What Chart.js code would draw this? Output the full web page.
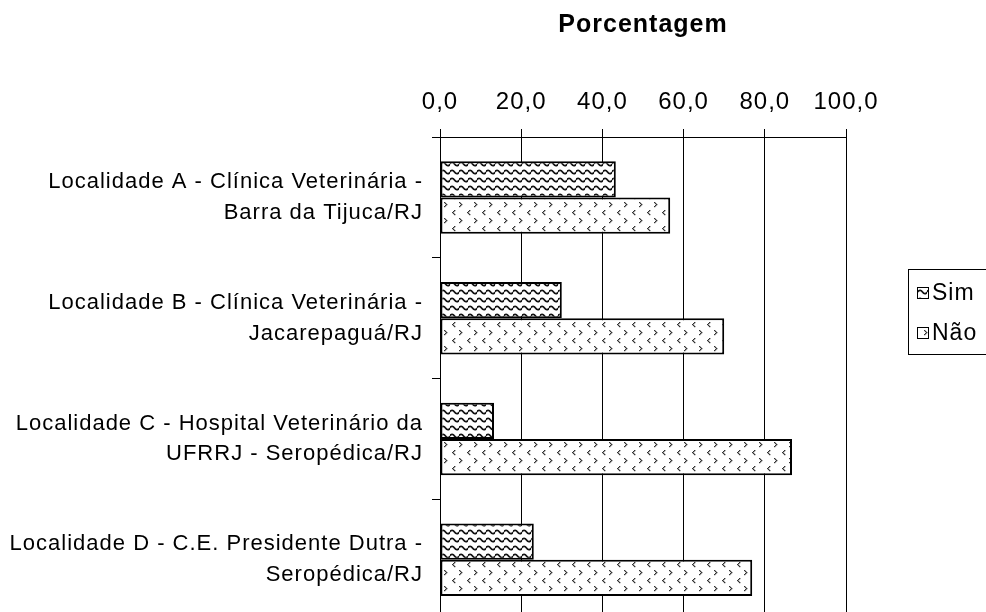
<!DOCTYPE html>
<html>
<head>
<meta charset="utf-8">
<script src="https://cdn.jsdelivr.net/npm/chart.js@4.4.1/dist/chart.umd.min.js"></script>
<style>
html, body { margin: 0; padding: 0; background: #fff; overflow: hidden; }
canvas { display: block; }
</style>
</head>
<body>
<canvas id="chart" width="986" height="660"></canvas>
<script>
// categorias (rótulos em duas linhas)
const localidades = [
  ['Localidade A - Clínica Veterinária -', 'Barra da Tijuca/RJ'],
  ['Localidade B - Clínica Veterinária -', 'Jacarepaguá/RJ'],
  ['Localidade C - Hospital Veterinário da', 'UFRRJ - Seropédica/RJ'],
  ['Localidade D - C.E. Presidente Dutra -', 'Seropédica/RJ']
];
// porcentagens
const sim = [43.3, 30.0, 13.3, 23.1];
const nao = [56.7, 70.0, 86.7, 76.9];
const seriesNames = ['Sim', 'Não'];
const eixoTitulo = 'Porcentagem';

const ctx = document.getElementById('chart').getContext('2d');
Chart.defaults.font.family = '"Liberation Sans", Arial, Helvetica, sans-serif';
Chart.defaults.color = '#000';

// textura ondulada (Sim)
function wavePattern() {
  const c = document.createElement('canvas');
  c.width = 9; c.height = 8;
  const g = c.getContext('2d');
  g.fillStyle = '#fff';
  g.fillRect(0, 0, 9, 8);
  g.strokeStyle = '#111';
  g.lineWidth = 1.7;
  g.beginPath();
  g.moveTo(-0.5, 4);
  g.quadraticCurveTo(2.25, 0.6, 4.5, 4);
  g.quadraticCurveTo(6.75, 7.4, 9.5, 4);
  g.stroke();
  return ctx.createPattern(c, 'repeat');
}

// textura de setinhas < > (Não)
function chevronPattern() {
  const c = document.createElement('canvas');
  c.width = 15; c.height = 16;
  const g = c.getContext('2d');
  g.fillStyle = '#fff';
  g.fillRect(0, 0, 15, 16);
  g.fillStyle = '#333';
  const menor = [[2, 0], [1, 1], [0, 2], [1, 3], [2, 4]];
  const maior = [[0, 0], [1, 1], [2, 2], [1, 3], [0, 4]];
  menor.forEach(([x, y]) => g.fillRect(2 + x, 2 + y, 1.4, 1.2));
  maior.forEach(([x, y]) => g.fillRect(9 + x, 10 + y, 1.4, 1.2));
  return ctx.createPattern(c, 'repeat');
}

// espaçamento de letras um pouco mais largo, como no original
const spacing = {
  id: 'spacing',
  beforeUpdate(chart) { chart.ctx.letterSpacing = '1px'; },
  beforeDraw(chart) { chart.ctx.letterSpacing = '1px'; }
};

// legenda com moldura, parcialmente cortada na borda direita
const legendBox = {
  id: 'legendBox',
  afterDraw(chart) {
    const c = chart.ctx;
    c.save();
    c.fillStyle = '#fff';
    c.strokeStyle = '#000';
    c.lineWidth = 1;
    c.fillRect(908.5, 269.5, 120, 85);
    c.strokeRect(908.5, 269.5, 120, 85);
    c.font = '23px "Liberation Sans", Arial, sans-serif';
    c.textBaseline = 'middle';
    chart.data.datasets.forEach((ds, i) => {
      const y = 293 + i * 40;
      c.fillStyle = ds.backgroundColor;
      c.fillRect(917, y - 6, 12, 12);
      c.strokeRect(917.5, y - 5.5, 11, 11);
      c.fillStyle = '#000';
      c.fillText(ds.label, 932, y + 1);
    });
    c.restore();
  }
};

const chart = new Chart(ctx, {
  type: 'bar',
  data: {
    labels: localidades,
    datasets: [
      {
        label: seriesNames[0],
        data: sim,
        backgroundColor: wavePattern(),
        borderColor: '#000',
        borderWidth: 2,
        borderSkipped: false,
        categoryPercentage: 0.6,
        barPercentage: 1.0
      },
      {
        label: seriesNames[1],
        data: nao,
        backgroundColor: chevronPattern(),
        borderColor: '#000',
        borderWidth: 2,
        borderSkipped: false,
        categoryPercentage: 0.6,
        barPercentage: 1.0
      }
    ]
  },
  options: {
    responsive: false,
    animation: false,
    indexAxis: 'y',
    layout: { padding: { left: 0, right: 140, top: 0, bottom: 0 } },
    plugins: {
      legend: { display: false },
      tooltip: { enabled: false }
    },
    scales: {
      x: {
        position: 'top',
        min: 0,
        max: 100,
        ticks: {
          stepSize: 20,
          padding: 12,
          font: { size: 24 },
          callback: v => v.toFixed(1).replace('.', ',')
        },
        grid: { color: '#000', tickColor: '#000', tickLength: 8 },
        border: { color: '#000' },
        title: {
          display: true,
          text: eixoTitulo,
          font: { size: 25, weight: 'bold' },
          padding: { top: 10, bottom: 0 }
        },
        afterFit: s => { s.height = 137; }
      },
      y: {
        ticks: { font: { size: 22, lineHeight: 1.4 }, padding: 9 },
        grid: { drawOnChartArea: false, color: '#000', tickLength: 8, offset: true },
        border: { color: '#000' },
        afterFit: s => { s.width = 440; }
      }
    }
  },
  plugins: [spacing, legendBox]
});
</script>
</body>
</html>
